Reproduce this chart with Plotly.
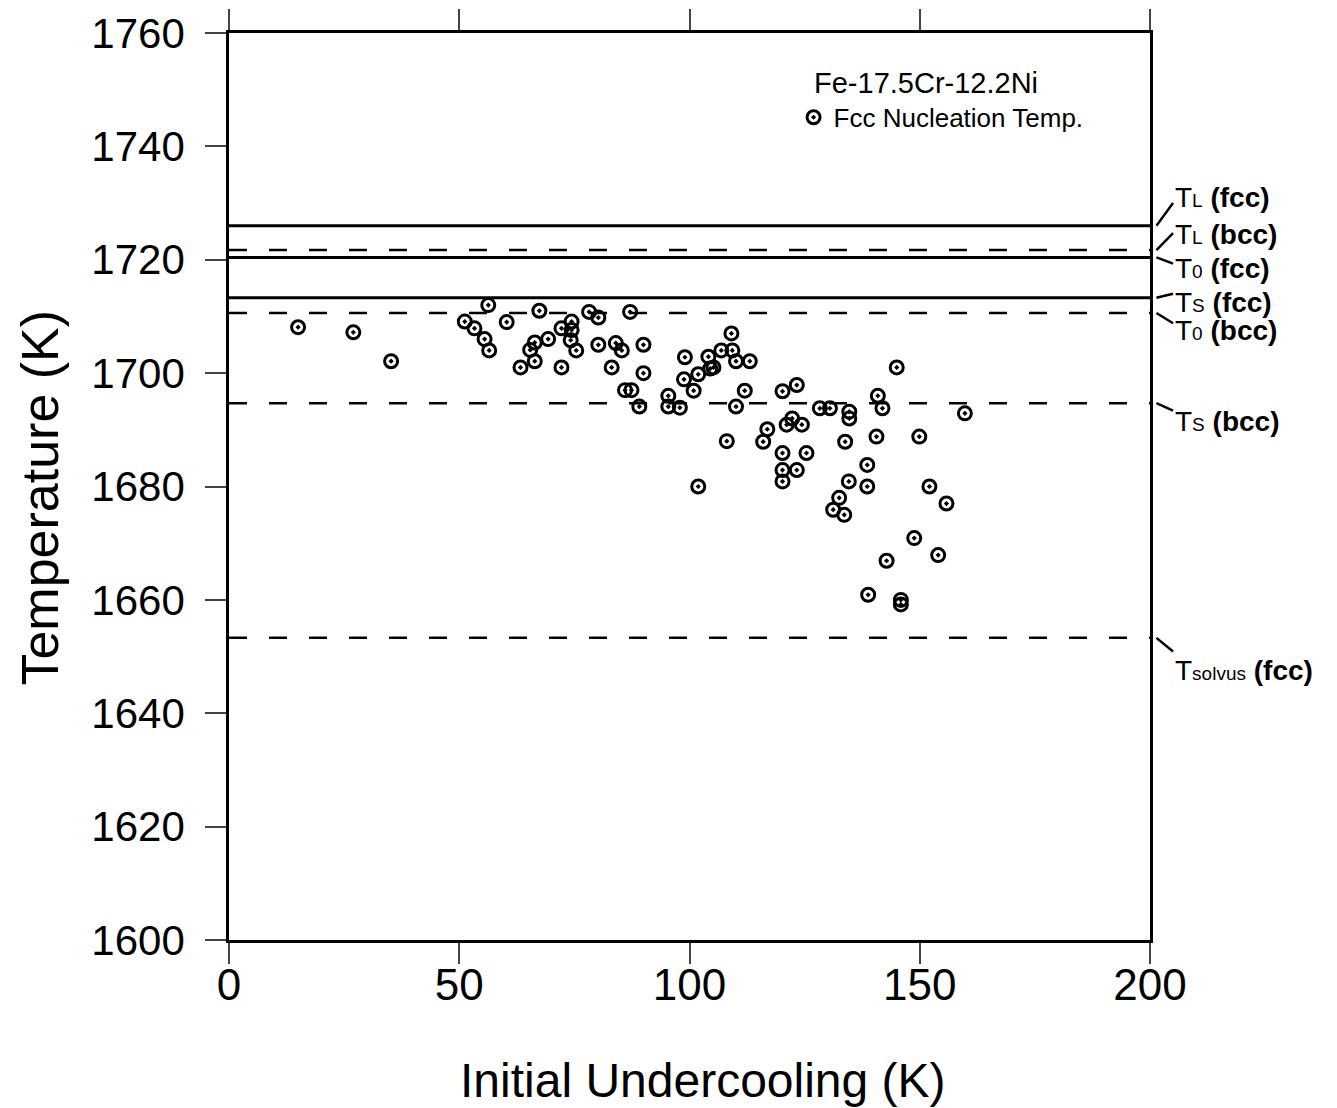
import plotly.graph_objects as go

# ---------------- data ----------------
undercooling = [15.0, 27.0, 35.2, 51.2, 53.3, 55.5, 56.5, 56.3, 60.3, 63.3,
                65.4, 66.4, 66.4, 67.4, 69.3, 72.2, 72.2, 74.4, 74.4, 74.2,
                75.4, 78.2, 80.2, 80.2, 83.1, 84.0, 85.3, 86.0, 87.4, 87.1,
                89.1, 90.0, 90.0, 95.4, 95.4, 97.9, 99.0, 98.8, 100.9, 101.9,
                101.9, 104.1, 104.5, 105.2, 106.9, 109.1, 109.3, 110.1, 113.1, 112.0,
                110.1, 108.1, 116.9, 116.0, 120.2, 123.3, 121.1, 122.3, 124.4, 120.2,
                125.4, 120.2, 123.3, 120.2, 128.3, 130.5, 134.7, 134.7, 133.8, 134.6,
                132.5, 131.2, 133.6, 138.6, 138.6, 140.9, 141.9, 140.6, 145.0, 149.9,
                152.1, 155.8, 159.8, 154.0, 148.8, 142.8, 138.8, 145.9, 145.9]
nucleation_temp = [1708.1, 1707.2, 1702.1, 1709.1, 1707.9, 1706.0, 1704.0, 1712.0, 1709.0, 1701.0,
                   1704.1, 1705.4, 1702.1, 1711.0, 1706.0, 1707.9, 1701.0, 1709.1, 1707.6, 1705.8,
                   1704.0, 1710.8, 1709.8, 1705.0, 1701.0, 1705.3, 1704.0, 1697.0, 1697.0, 1710.8,
                   1694.1, 1705.0, 1700.0, 1696.0, 1694.1, 1693.9, 1702.8, 1698.9, 1696.9, 1699.8,
                   1680.0, 1702.9, 1700.8, 1701.0, 1704.0, 1707.0, 1704.0, 1702.1, 1702.1, 1696.9,
                   1694.1, 1688.0, 1690.1, 1687.9, 1696.8, 1697.9, 1690.9, 1692.0, 1690.9, 1685.9,
                   1685.9, 1682.9, 1682.9, 1680.9, 1693.8, 1693.8, 1693.2, 1692.0, 1687.9, 1680.9,
                   1678.0, 1675.9, 1675.0, 1683.8, 1680.0, 1696.0, 1693.8, 1688.8, 1701.0, 1688.8,
                   1680.0, 1677.0, 1692.9, 1667.9, 1670.9, 1666.9, 1660.9, 1660.0, 1659.2]

# reference temperature lines
line_names = ["TL (fcc)", "TL (bcc)", "T0 (fcc)", "TS (fcc)", "T0 (bcc)", "TS (bcc)", "Tsolvus (fcc)"]
line_temps = [1726.0, 1721.7, 1720.4, 1713.3, 1710.6, 1694.7, 1653.3]
line_dashed = [False, True, False, False, True, True, True]

# right-hand labels (main letter, subscript, phase) and label heights (K)
label_main = ["T", "T", "T", "T", "T", "T", "T"]
label_sub = ["L", "L", "0", "S", "0", "S", "solvus"]
label_phase = ["(fcc)", "(bcc)", "(fcc)", "(fcc)", "(bcc)", "(bcc)", "(fcc)"]
label_y = [1730.9, 1724.4, 1718.5, 1712.5, 1707.6, 1691.4, 1647.6]
leader_end_y = [1730.0, 1724.7, 1719.3, 1714.0, 1708.8, 1693.4, 1650.9]

x_ticks = [0, 50, 100, 150, 200]
y_ticks = [1600, 1620, 1640, 1660, 1680, 1700, 1720, 1740, 1760]

alloy_label = "Fe-17.5Cr-12.2Ni"
series_label = "Fcc Nucleation Temp."
x_title = "Initial Undercooling (K)"
y_title = "Temperature (K)"

FONT = "Liberation Sans, Arial, Helvetica, sans-serif"

fig = go.Figure()

for name, t, dashed in zip(line_names, line_temps, line_dashed):
    fig.add_trace(go.Scatter(
        x=[x_ticks[0], x_ticks[-1]], y=[t, t], mode="lines",
        line=dict(color="black", width=2.8 if not dashed else 2.5,
                  dash="18px,22px" if dashed else "solid"),
        showlegend=False, hoverinfo="skip", name=name))

fig.add_trace(go.Scatter(
    x=undercooling, y=nucleation_temp, mode="markers",
    name=series_label,
    marker=dict(symbol="circle-open-dot", size=13, color="black",
                line=dict(color="black", width=3)),
    showlegend=True))

# right-side labels and leader lines
for m, s, p, ly, t, ey in zip(label_main, label_sub, label_phase, label_y, line_temps, leader_end_y):
    fig.add_annotation(
        x=1.025, xref="paper", y=ly, yref="y", xanchor="left", yanchor="middle",
        text=f"{m}<span style='font-size:19px'>{s}</span> <b>{p}</b>",
        showarrow=False, font=dict(family=FONT, size=28, color="black"))
    fig.add_shape(type="line", xref="paper", yref="y",
                  x0=1.007, y0=t, x1=1.025, y1=ey,
                  line=dict(color="black", width=2.4))

# alloy label (legend heading)
fig.add_annotation(x=0.633, xref="paper", y=0.945, yref="paper",
                   xanchor="left", yanchor="middle", text=alloy_label,
                   showarrow=False, font=dict(family=FONT, size=29, color="black"))

# axis titles
fig.add_annotation(x=0.5147, xref="paper", y=-0.1544, yref="paper",
                   xanchor="center", yanchor="middle", text=x_title,
                   showarrow=False, font=dict(family=FONT, size=48, color="black"))
fig.add_annotation(x=-0.205, xref="paper", y=0.488, yref="paper",
                   xanchor="center", yanchor="middle", text=y_title, textangle=-90,
                   showarrow=False, font=dict(family=FONT, size=52, color="black"))

fig.update_layout(
    width=1321, height=1100,
    paper_bgcolor="white", plot_bgcolor="white",
    margin=dict(l=221, r=179, t=25, b=168, autoexpand=False),
    font=dict(family=FONT, color="black"),
    showlegend=True,
    legend=dict(
        x=0.613, y=0.907, xanchor="left", yanchor="middle",
        bgcolor="rgba(0,0,0,0)", borderwidth=0,
        font=dict(family=FONT, size=26), itemwidth=30, tracegroupgap=0),
    xaxis=dict(
        range=[0, 200], tickvals=x_ticks, ticks="outside", ticklen=21, tickwidth=2,
        showline=True, linewidth=2.6, linecolor="black", mirror="ticks",
        showgrid=False, zeroline=False, automargin=False, ticklabelstandoff=-17,
        tickfont=dict(family=FONT, size=44)),
    yaxis=dict(
        range=[1600, 1760], tickvals=y_ticks, ticks="outside", ticklen=21, tickwidth=2,
        showline=True, linewidth=2.6, linecolor="black", mirror=True,
        showgrid=False, zeroline=False, automargin=False, ticklabelstandoff=12,
        tickfont=dict(family=FONT, size=42)),
)

fig.write_html("out.html")
